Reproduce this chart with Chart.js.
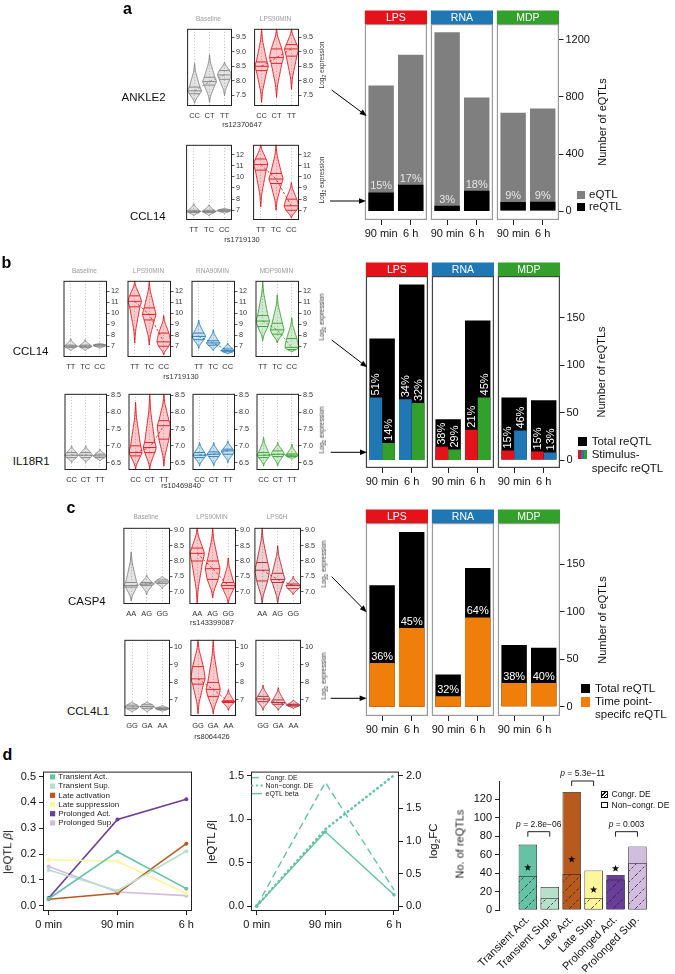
<!DOCTYPE html>
<html>
<head>
<meta charset="utf-8">
<title>eQTL figure</title>
<script src="https://cdn.jsdelivr.net/npm/chart.js@4.4.1/dist/chart.umd.min.js"></script>
<style>
  html, body { margin: 0; padding: 0; background: #fff; }
  #fig { position: relative; width: 675px; height: 974px; overflow: hidden;
         font-family: "Liberation Sans", Arial, Helvetica, sans-serif; color: #111; }
  #fig canvas { position: absolute; }
  .t { position: absolute; white-space: nowrap; line-height: 1; }
  .sw { position: absolute; box-sizing: border-box; }
</style>
</head>
<body>
<div id="fig"></div>
<script>
// ---------- data: bar panels a-c ----------
const timeLabels = ['90 min', '6 h'];
const stimNames = ['LPS', 'RNA', 'MDP'];
const stimColors = ['#e3121b', '#1f78b4', '#33a02c'];

// a: eQTL and reQTL counts, per stimulus [90 min, 6 h]
const aTotal = [[880, 1096], [1254, 797], [690, 720]];
const aRe = [[130, 184], [37, 143], [63, 65]];
const aPct = [['15%', '17%'], ['3%', '18%'], ['9%', '9%']];
const aTicks = [0, 400, 800, 1200];

// b: total reQTL and stimulus-specific reQTL
const bTotal = [[128, 185], [43, 147], [66, 63]];
const bLeft = [[66, 64], [14, 32], [10, 9]];
const bRight = [[18, 60], [11, 66], [31, 8]];
const bLeftPct = [['51%', '34%'], ['38%', '21%'], ['15%', '15%']];
const bRightPct = [['14%', '32%'], ['29%', '45%'], ['46%', '13%']];
const bLeftColor = ['#1f78b4', '#e3121b', '#e3121b'];
const bRightColor = ['#33a02c', '#33a02c', '#1f78b4'];
const reTicks = [0, 50, 100, 150];

// c: total reQTL and time point-specific reQTL
const cTotal = [[128, 184], [34, 146], [65, 62]];
const cTime = [[46, 83], [11, 94], [25, 25]];
const cPct = [['36%', '45%'], ['32%', '64%'], ['38%', '40%']];

// ---------- data: violins, each [low, q1, median, q3, high] ----------
const ankleGeno = ['CC', 'CT', 'TT'];
const ankleBase = [[7.22, 7.55, 7.65, 7.78, 8.6], [7.25, 7.85, 7.97, 8.12, 8.9], [7.48, 8.05, 8.2, 8.35, 8.65]];
const ankleLps = [[7.25, 8.35, 8.5, 8.65, 9.8], [7.42, 8.6, 8.8, 9.1, 9.8], [7.7, 8.85, 9.1, 9.25, 9.8]];
const ankleTicks = [7.5, 8, 8.5, 9, 9.5];

const ccl14Geno = ['TT', 'TC', 'CC'];
const ccl14BaseA = [[6.5, 6.8, 6.9, 7.0, 7.6], [6.5, 6.8, 6.9, 7.0, 7.5], [6.7, 6.9, 7.0, 7.05, 7.2]];
const ccl14LpsA = [[7.3, 10.6, 11.1, 11.6, 12.9], [7.0, 9.4, 9.8, 10.3, 12.9], [6.3, 7.0, 7.4, 8.0, 9.5]];
const ccl14Base = [[6.6, 6.9, 7.0, 7.1, 7.7], [6.6, 6.9, 7.0, 7.1, 7.6], [6.8, 7.0, 7.1, 7.15, 7.3]];
const ccl14Lps = [[7.3, 10.6, 11.1, 11.6, 12.95], [7.1, 9.4, 9.9, 10.5, 12.95], [6.2, 7.0, 7.4, 8.2, 9.8]];
const ccl14Rna = [[6.8, 7.6, 7.9, 8.2, 9.4], [6.6, 7.1, 7.3, 7.5, 8.5], [6.3, 6.5, 6.6, 6.75, 7.3]];
const ccl14Mdp = [[7.5, 8.8, 9.3, 9.8, 12.95], [7.3, 8.1, 8.5, 9.1, 11.7], [6.5, 6.7, 6.9, 7.7, 9.6]];
const ccl14Ticks = [7, 8, 9, 10, 11, 12];

const il18Geno = ['CC', 'CT', 'TT'];
const il18Base = [[6.5, 6.65, 6.72, 6.8, 7.0], [6.5, 6.65, 6.72, 6.8, 7.0], [6.55, 6.65, 6.7, 6.75, 6.9]];
const il18Lps = [[6.3, 6.7, 6.8, 7.0, 8.3], [6.3, 6.8, 6.95, 7.1, 8.55], [6.4, 7.2, 7.6, 7.75, 8.55]];
const il18Rna = [[6.4, 6.65, 6.72, 6.8, 7.1], [6.4, 6.68, 6.75, 6.82, 7.1], [6.5, 6.75, 6.85, 6.9, 7.15]];
const il18Mdp = [[6.4, 6.65, 6.72, 6.8, 7.25], [6.4, 6.68, 6.75, 6.85, 7.1], [6.6, 6.68, 6.72, 6.76, 7.05]];
const il18Ticks = [6.5, 7, 7.5, 8, 8.5];

const casp4Geno = ['AA', 'AG', 'GG'];
const casp4Base = [[6.7, 7.15, 7.2, 7.3, 8.3], [6.9, 7.2, 7.25, 7.3, 7.55], [7.1, 7.27, 7.32, 7.38, 7.5]];
const casp4Lps90 = [[6.6, 8.0, 8.25, 8.42, 9.08], [6.8, 7.4, 7.75, 8.0, 9.08], [6.6, 7.1, 7.2, 7.3, 8.1]];
const casp4Lps6 = [[6.6, 7.35, 7.7, 7.95, 9.08], [6.6, 7.3, 7.4, 7.6, 8.5], [6.9, 7.1, 7.2, 7.25, 7.5]];
const casp4Ticks = [7, 7.5, 8, 8.5, 9];

const ccl4Geno = ['GG', 'GA', 'AA'];
const ccl4Base = [[6.3, 6.5, 6.6, 6.7, 6.9], [6.3, 6.52, 6.62, 6.72, 6.9], [6.35, 6.45, 6.5, 6.55, 6.7]];
const ccl4Lps90 = [[6.2, 7.9, 8.2, 8.9, 10.43], [6.2, 7.2, 7.6, 8.0, 10.43], [6.4, 6.85, 6.9, 6.95, 7.6]];
const ccl4Lps6 = [[6.4, 6.9, 7.05, 7.2, 7.85], [6.4, 6.75, 6.85, 7.0, 7.7], [6.5, 6.65, 6.7, 6.75, 7.0]];
const ccl4Ticks = [7, 8, 9, 10];

// ---------- data: panel d ----------
const dTimes = ['0 min', '90 min', '6 h'];
const dClasses = ['Transient Act.', 'Transient Sup.', 'Late activation', 'Late suppression', 'Prolonged Act.', 'Prolonged Sup.'];
const dColors = ['#66c2a5', '#b6e0cb', '#b85a1d', '#fff59a', '#6a3d9a', '#d2bce0'];
const transientAct = [0.027, 0.209, 0.066];
const transientSup = [0.138, 0.058, 0.211];
const lateAct = [0.025, 0.048, 0.240];
const lateSup = [0.178, 0.172, 0.047];
const prolongedAct = [0.030, 0.334, 0.412];
const prolongedSup = [0.152, 0.053, 0.039];
const betaTicks = [0, 0.1, 0.2, 0.3, 0.4, 0.5];

const congrDE = [0, 1.90, 0.25];
const nonCongrDE = [0, 1.18, 2.01];
const eqtlBeta = [0, 0.856, 0.13];
const betaTicks2 = [0, 0.5, 1, 1.5];
const fcTicks = [0, 0.5, 1, 1.5, 2];

const barCats = ['Transient Act.', 'Transient Sup.', 'Late Act.', 'Late Sup.', 'Prolonged Act.', 'Prolonged Sup.'];
const totalRe = [71, 25, 128, 43, 38, 69];
const congrRe = [37, 13, 39, 13, 33, 51];
const starAt = [46, null, 55, 22, 45, null];
const pTests = [[0, 1, '2.8e\u221206', 85], [2, 3, '5.3e\u221211', 140], [4, 5, '0.003', 85]];
const countTicks = [0, 20, 40, 60, 80, 100, 120];

// ---------- helpers ----------
const FONT = '"Liberation Sans", Arial, Helvetica, sans-serif';
const fig = document.getElementById('fig');

function mkCanvas(x, y, w, h) {
  const c = document.createElement('canvas');
  c.width = w; c.height = h;
  c.style.left = x + 'px'; c.style.top = y + 'px';
  c.style.width = w + 'px'; c.style.height = h + 'px';
  fig.appendChild(c);
  return c;
}

function label(html, x, y, size, o = {}) {
  const d = document.createElement('div');
  d.className = 't';
  d.innerHTML = html;
  d.style.left = x + 'px';
  d.style.top = y + 'px';
  d.style.fontSize = size + 'px';
  d.style.color = o.color || '#111';
  if (o.bold) d.style.fontWeight = 'bold';
  const ax = o.align === 'left' ? '0' : o.align === 'right' ? '-100%' : '-50%';
  d.style.transform = 'translate(' + ax + ',-50%)' + (o.rot ? ' rotate(' + o.rot + 'deg)' : '');
  fig.appendChild(d);
}

function swatch(x, y, w, h, bg, border) {
  const d = document.createElement('div');
  d.className = 'sw';
  d.style.cssText += 'left:' + x + 'px;top:' + y + 'px;width:' + w + 'px;height:' + h + 'px;background:' + bg + ';' + (border ? 'border:' + border + ';' : '');
  fig.appendChild(d);
}

function rgba(hex, a) {
  const n = parseInt(hex.slice(1), 16);
  return 'rgba(' + (n >> 16) + ',' + ((n >> 8) & 255) + ',' + (n & 255) + ',' + a + ')';
}

function hatch(color) {
  const c = document.createElement('canvas');
  c.width = c.height = 11;
  const g = c.getContext('2d');
  g.fillStyle = color; g.fillRect(0, 0, 11, 11);
  g.strokeStyle = '#222'; g.lineWidth = 0.8; g.setLineDash([2.6, 2]);
  g.beginPath(); g.moveTo(0, 11); g.lineTo(11, 0); g.stroke();
  return g.createPattern(c, 'repeat');
}

// smooth violin outline from the five summary values
function violinProfile(s) {
  const [lo, q1, md, q3, hi] = s;
  const knots = [[lo, 0], [lo + (q1 - lo) * 0.35, 0.13], [q1, 0.74], [md, 1], [q3, 0.74], [hi - (hi - q3) * 0.35, 0.13], [hi, 0]];
  const n = 48, pts = [];
  for (let i = 0; i <= n; i++) {
    const v = lo + (hi - lo) * i / n;
    let k = 1;
    while (k < knots.length - 1 && knots[k][0] < v) k++;
    const [v0, w0] = knots[k - 1], [v1, w1] = knots[k];
    pts.push([v, v1 > v0 ? w0 + (w1 - w0) * (v - v0) / (v1 - v0) : w1]);
  }
  for (let pass = 0; pass < 2; pass++) {
    const c = pts.map(p => p[1]);
    for (let i = 1; i < n; i++) pts[i][1] = (c[i - 1] + 2 * c[i] + c[i + 1]) / 4;
  }
  return pts;
}
function widthAt(pts, v) {
  for (let i = 1; i < pts.length; i++) {
    if (pts[i][0] >= v) {
      const [v0, w0] = pts[i - 1], [v1, w1] = pts[i];
      return v1 > v0 ? w0 + (w1 - w0) * (v - v0) / (v1 - v0) : w1;
    }
  }
  return 0;
}

function star(ctx, x, y, r) {
  ctx.beginPath();
  for (let i = 0; i < 10; i++) {
    const rr = i % 2 ? r * 0.42 : r, a = -Math.PI / 2 + i * Math.PI / 5;
    ctx.lineTo(x + rr * Math.cos(a), y + rr * Math.sin(a));
  }
  ctx.closePath(); ctx.fill();
}

// ---------- plugins ----------
const framePlugin = {
  id: 'frame',
  afterDatasetsDraw(chart, args, o) {
    if (!o || !o.color) return;
    const { ctx, chartArea: a } = chart;
    const e = o.expand || 0, lw = o.width || 1;
    ctx.save();
    ctx.strokeStyle = o.color; ctx.lineWidth = lw;
    ctx.strokeRect(a.left - e + lw / 2, a.top + lw / 2, a.right - a.left + 2 * e - lw, a.bottom - a.top - lw);
    if (o.header) {
      ctx.fillStyle = o.headerColor;
      ctx.fillRect(a.left - e, a.top - o.headerH, a.right - a.left + 2 * e, o.headerH);
      ctx.fillStyle = '#fff';
      ctx.font = '10.5px ' + FONT;
      ctx.textAlign = 'center'; ctx.textBaseline = 'middle';
      ctx.fillText(o.header, (a.left + a.right) / 2, a.top - o.headerH / 2 + 0.5);
    }
    ctx.restore();
  }
};

const pctPlugin = {
  id: 'pct',
  afterDatasetsDraw(chart, args, o) {
    if (!o || !o.sets) return;
    const ctx = chart.ctx;
    ctx.save();
    ctx.fillStyle = o.color;
    ctx.font = o.size + 'px ' + FONT;
    o.sets.forEach(([ds, labels]) => {
      chart.getDatasetMeta(ds).data.forEach((bar, i) => {
        if (o.rotate) {
          ctx.save();
          ctx.translate(bar.x, bar.y - o.gap);
          ctx.rotate(-Math.PI / 2);
          ctx.textAlign = 'left'; ctx.textBaseline = 'middle';
          ctx.fillText(labels[i], 0, 0.5);
          ctx.restore();
        } else {
          ctx.textAlign = 'center'; ctx.textBaseline = 'alphabetic';
          ctx.fillText(labels[i], bar.x, bar.y - o.gap);
        }
      });
    });
    ctx.restore();
  }
};

const violinPlugin = {
  id: 'violin',
  beforeDatasetsDraw(chart, args, o) {
    if (!o || !o.stats) return;
    const { ctx, chartArea: a, scales: { x, y } } = chart;
    const half = 0.48 * Math.abs(x.getPixelForValue(1) - x.getPixelForValue(0));
    ctx.save();
    ctx.beginPath(); ctx.rect(a.left, a.top, a.right - a.left, a.bottom - a.top); ctx.clip();
    o.stats.forEach((s, i) => {
      const cx = x.getPixelForValue(i);
      const pts = violinProfile(s);
      ctx.beginPath();
      pts.forEach((p, j) => {
        const px = cx + p[1] * half, py = y.getPixelForValue(p[0]);
        if (j) ctx.lineTo(px, py); else ctx.moveTo(px, py);
      });
      for (let j = pts.length - 1; j >= 0; j--) ctx.lineTo(cx - pts[j][1] * half, y.getPixelForValue(pts[j][0]));
      ctx.closePath();
      ctx.fillStyle = rgba(o.color, 0.22);
      ctx.fill();
      ctx.strokeStyle = o.color; ctx.lineWidth = 0.9;
      ctx.stroke();
      [s[1], s[2], s[3]].forEach(q => {
        const w = widthAt(pts, q) * half, py = y.getPixelForValue(q);
        ctx.beginPath(); ctx.moveTo(cx - w, py); ctx.lineTo(cx + w, py); ctx.stroke();
      });
    });
    ctx.restore();
  }
};

const legendInPlugin = {
  id: 'legendIn',
  afterDraw(chart, args, o) {
    if (!o || !o.kind) return;
    const { ctx, chartArea: a } = chart;
    ctx.save();
    ctx.font = o.size + 'px ' + FONT;
    ctx.textBaseline = 'middle'; ctx.textAlign = 'left';
    chart.data.datasets.forEach((ds, i) => {
      const yy = a.top + o.top + i * o.step, x0 = a.left + o.left;
      if (o.kind === 'square') {
        ctx.fillStyle = ds.borderColor;
        ctx.fillRect(x0, yy - 2.6, 5.2, 5.2);
        ctx.fillStyle = '#222';
        ctx.fillText(ds.label, x0 + 8.3, yy);
      } else {
        ctx.strokeStyle = ds.borderColor;
        ctx.lineWidth = Math.min(ds.borderWidth, 2);
        ctx.setLineDash(ds.borderDash || []);
        ctx.lineCap = ds.borderCapStyle || 'butt';
        ctx.beginPath(); ctx.moveTo(x0, yy); ctx.lineTo(x0 + 10, yy); ctx.stroke();
        ctx.setLineDash([]);
        ctx.fillStyle = '#222';
        ctx.fillText(ds.label, x0 + 13.5, yy);
      }
    });
    ctx.restore();
  }
};

const annotPlugin = {
  id: 'annot',
  afterDatasetsDraw(chart, args, o) {
    if (!o || !o.tests) return;
    const { ctx, scales: { x, y } } = chart;
    ctx.save();
    ctx.fillStyle = '#111';
    o.stars.forEach((v, i) => {
      if (v === null || v === undefined) return;
      star(ctx, x.getPixelForValue(i), y.getPixelForValue(v), 3.8);
    });
    ctx.strokeStyle = '#222'; ctx.lineWidth = 1;
    o.tests.forEach(([i, j, txt, v]) => {
      const x1 = x.getPixelForValue(i), x2 = x.getPixelForValue(j), yy = y.getPixelForValue(v);
      ctx.beginPath();
      ctx.moveTo(x1, yy + 5); ctx.lineTo(x1, yy); ctx.lineTo(x2, yy); ctx.lineTo(x2, yy + 5);
      ctx.stroke();
      ctx.font = 'italic 8.5px ' + FONT;
      const pw = ctx.measureText('p').width;
      ctx.font = '8.5px ' + FONT;
      const rest = ' = ' + txt, rw = ctx.measureText(rest).width;
      const x0 = (x1 + x2) / 2 - (pw + rw) / 2;
      ctx.textAlign = 'left'; ctx.textBaseline = 'alphabetic';
      ctx.font = 'italic 8.5px ' + FONT;
      ctx.fillText('p', x0, yy - 5);
      ctx.font = '8.5px ' + FONT;
      ctx.fillText(rest, x0 + pw, yy - 5);
    });
    ctx.restore();
  }
};

Chart.register(framePlugin, pctPlugin, violinPlugin, legendInPlugin, annotPlugin);
Chart.defaults.font.family = FONT;
Chart.defaults.color = '#111';
Chart.defaults.animation = false;
Chart.defaults.responsive = false;
Chart.defaults.plugins.legend.display = false;
Chart.defaults.plugins.tooltip.enabled = false;

// ---------- faceted bar charts (a, b, c) ----------
const barOpts = { categoryPercentage: 0.86, barPercentage: 1, borderWidth: 0 };

function facetChart(p) {
  const cx = p.fx - 1, cy = p.areaTop - 14;
  const cw = p.last ? 675 - cx : 66;
  const cv = mkCanvas(cx, cy, cw, 14 + p.areaH + 24);
  return new Chart(cv, {
    type: 'bar',
    data: { labels: timeLabels, datasets: p.datasets },
    options: {
      layout: { autoPadding: false, padding: { left: 2.5, right: p.last ? cw - 2.5 - 61 - 36 : 2.5, top: 14, bottom: 0 } },
      scales: {
        x: {
          type: 'category', offset: true,
          grid: { display: true, drawOnChartArea: false, drawTicks: true, tickLength: 5, offset: false, color: '#222' },
          border: { display: false },
          ticks: { font: { size: 11 }, color: '#111', padding: 2, maxRotation: 0, autoSkip: false },
          afterFit: s => { s.height = 24; }
        },
        y: {
          type: 'linear', position: 'right', display: p.last, min: p.yMin, max: p.yMax,
          grid: { drawOnChartArea: false, tickLength: 6, color: '#222' },
          border: { display: false },
          ticks: { font: { size: 11 }, color: '#111', padding: 2, callback: v => String(v) },
          afterBuildTicks: s => { s.ticks = p.yTicks.map(v => ({ value: v })); },
          afterFit: s => { s.width = p.last ? 36 : 0; }
        }
      },
      plugins: {
        frame: { color: p.frameColor, width: 1.2, expand: 1.5, header: stimNames[p.k], headerColor: stimColors[p.k], headerH: 13.5 },
        pct: p.pct
      }
    }
  });
}

const facetX = [[363, 429, 495], [364, 430, 496], [364, 430, 496]];
for (let k = 0; k < 3; k++) {
  facetChart({
    fx: facetX[0][k], areaTop: 24, areaH: 196, k, last: k === 2,
    yMin: -63, yMax: 1312, yTicks: aTicks, frameColor: '#9a9a9a',
    datasets: [
      { ...barOpts, data: aRe[k], backgroundColor: '#000', grouped: false, order: 0 },
      { ...barOpts, data: aTotal[k], backgroundColor: '#7f7f7f', grouped: false, order: 1 }
    ],
    pct: { sets: [[0, aPct[k]]], color: '#e6e6e6', size: 11, gap: 3, rotate: false }
  });
  facetChart({
    fx: facetX[1][k], areaTop: 276, areaH: 192, k, last: k === 2,
    yMin: -8.4, yMax: 194, yTicks: reTicks, frameColor: '#444',
    datasets: [
      { ...barOpts, data: bLeft[k], backgroundColor: bLeftColor[k], grouped: true, order: 0 },
      { ...barOpts, data: bRight[k], backgroundColor: bRightColor[k], grouped: true, order: 1 },
      { ...barOpts, data: bTotal[k], backgroundColor: '#000', grouped: false, order: 2 }
    ],
    pct: { sets: [[0, bLeftPct[k]], [1, bRightPct[k]]], color: '#fff', size: 11, gap: 2, rotate: true }
  });
  facetChart({
    fx: facetX[2][k], areaTop: 523, areaH: 193, k, last: k === 2,
    yMin: -9.8, yMax: 193.5, yTicks: reTicks, frameColor: '#9a9a9a',
    datasets: [
      { ...barOpts, data: cTime[k], backgroundColor: '#f07e0a', grouped: false, order: 0 },
      { ...barOpts, data: cTotal[k], backgroundColor: '#000', grouped: false, order: 1 }
    ],
    pct: { sets: [[0, cPct[k]]], color: '#fff', size: 11, gap: 3, rotate: false }
  });
}

// ---------- violin panels ----------
const vGray = '#808080', vRed = '#e3121b', vBlue = '#1f78b4', vGreen = '#33a02c', vDark = '#b3202a';

function violinChart(bx, by, bw, bh, cats, stats, color, ticks, dec, yMin, yMax) {
  const cv = mkCanvas(bx - 1, by - 1, bw + 21, bh + 15);
  new Chart(cv, {
    type: 'line',
    data: { labels: cats, datasets: [{ data: stats.map(s => s[2]), borderColor: color, borderWidth: 0.8, borderDash: [2.5, 2], pointRadius: 0 }] },
    options: {
      layout: { autoPadding: false, padding: { left: 1, top: 1, right: 0, bottom: 0 } },
      scales: {
        x: {
          type: 'category', offset: true,
          grid: { display: true, drawTicks: false, color: '#b5b5b5', lineWidth: 0.7, offset: false },
          border: { display: false, dash: [1.2, 1.8] },
          ticks: { font: { size: 7.5 }, color: '#333', padding: 5, maxRotation: 0, autoSkip: false },
          afterFit: s => { s.height = 14; }
        },
        y: {
          position: 'right', min: yMin, max: yMax,
          grid: { drawOnChartArea: false, tickLength: 2.5, color: '#333', lineWidth: 0.8 },
          border: { display: false },
          ticks: { font: { size: 7.2 }, color: '#333', padding: 1.5, callback: v => v.toFixed(dec) },
          afterBuildTicks: s => { s.ticks = ticks.map(v => ({ value: v })); },
          afterFit: s => { s.width = 20; }
        }
      },
      plugins: { frame: { color: '#222', width: 1 }, violin: { stats, color } }
    }
  });
}

const violinRows = [
  { y: 24, h: 82, xs: [185, 252], w: 47, cats: ankleGeno, sets: [ankleBase, ankleLps], colors: [vGray, vRed], ticks: ankleTicks, dec: 1, min: 7.126, max: 9.795 },
  { y: 140, h: 80, xs: [185, 252], w: 47, cats: ccl14Geno, sets: [ccl14BaseA, ccl14LpsA], colors: [vGray, vRed], ticks: ccl14Ticks, dec: 0, min: 6.13, max: 12.87 },
  { y: 276, h: 81, xs: [62, 126, 190, 254], w: 45, cats: ccl14Geno, sets: [ccl14Base, ccl14Lps, ccl14Rna, ccl14Mdp], colors: [vGray, vRed, vBlue, vGreen], ticks: ccl14Ticks, dec: 0, min: 6.02, max: 12.97 },
  { y: 389, h: 81, xs: [62, 126, 190, 254], w: 45, cats: il18Geno, sets: [il18Base, il18Lps, il18Rna, il18Mdp], colors: [vGray, vRed, vBlue, vGreen], ticks: il18Ticks, dec: 1, min: 6.28, max: 8.55 },
  { y: 523, h: 81, xs: [122, 188, 253], w: 48, cats: casp4Geno, sets: [casp4Base, casp4Lps90, casp4Lps6], colors: [vGray, vRed, vDark], ticks: casp4Ticks, dec: 1, min: 6.6, max: 9.08 },
  { y: 635, h: 81, xs: [122, 188, 253], w: 48, cats: ccl4Geno, sets: [ccl4Base, ccl4Lps90, ccl4Lps6], colors: [vGray, vRed, vDark], ticks: ccl4Ticks, dec: 0, min: 6.08, max: 10.43 }
];
violinRows.forEach(r => {
  r.xs.forEach((bx, i) => violinChart(bx, r.y, r.w, r.h, r.cats, r.sets[i], r.colors[i], r.ticks, r.dec, r.min, r.max));
  const last = r.xs[r.xs.length - 1] + r.w;
  label('Log<sub style="font-size:5px">2</sub> expression', last + 24, r.y + r.h / 2, 6.5, { rot: -90, color: '#333' });
});

// panel titles over violins
const vTitles = [[violinRows[0], ['Baseline', 'LPS90MIN'], 19.3], [violinRows[2], ['Baseline', 'LPS90MIN', 'RNA90MIN', 'MDP90MIN'], 270.7], [violinRows[4], ['Baseline', 'LPS90MIN', 'LPS6H'], 517.3]];
vTitles.forEach(([r, names, ty]) => names.forEach((n, i) => label(n, r.xs[i] + r.w / 2, ty, 6.5, { color: '#9a9a9a' })));

// SNP ids
label('rs12370647', 242, 125.3, 7.5, { color: '#333' });
label('rs1719130', 242, 240, 7.5, { color: '#333' });
label('rs1719130', 181, 376.7, 7.5, { color: '#333' });
label('rs10469840', 181, 486, 7.5, { color: '#333' });
label('rs143399087', 212, 623.3, 7.5, { color: '#333' });
label('rs8064426', 212, 736.7, 7.5, { color: '#333' });

// gene names
label('ANKLE2', 165.7, 98.3, 11.5, { align: 'right' });
label('CCL14', 165.7, 217.3, 11.5, { align: 'right' });
label('CCL14', 12.7, 351.7, 11.5, { align: 'left' });
label('IL18R1', 12.7, 462.3, 11.5, { align: 'left' });
label('CASP4', 68, 601.7, 11.5, { align: 'left' });
label('CCL4L1', 67, 711.5, 11.5, { align: 'left' });

// panel letters
label('a', 123, 8.8, 16, { align: 'left', bold: true, color: '#000' });
label('b', 1.5, 263.3, 16, { align: 'left', bold: true, color: '#000' });
label('c', 66.5, 508, 16, { align: 'left', bold: true, color: '#000' });
label('d', 2.5, 755, 16, { align: 'left', bold: true, color: '#000' });

// bar axis titles and legends
label('Number of eQTLs', 601.7, 122, 11, { rot: -90 });
label('Number of reQTLs', 600.5, 371.7, 11, { rot: -90 });
label('Number of eQTLs', 601.7, 620, 11, { rot: -90 });
swatch(576.5, 190.7, 8.5, 8.5, '#7f7f7f');
swatch(576.5, 202.7, 8.5, 8.5, '#000');
label('eQTL', 589, 195, 11.5, { align: 'left' });
label('reQTL', 589, 207, 11.5, { align: 'left' });
swatch(577.5, 436.8, 9, 9, '#000');
swatch(577.5, 449.5, 9, 9.5, 'linear-gradient(to right,#e3121b 0 33%,#1f78b4 33% 66%,#33a02c 66%)');
label('Total reQTL', 591.7, 441.5, 11.5, { align: 'left' });
label('Stimulus-', 591.7, 455, 11.5, { align: 'left' });
label('specifc reQTL', 591.7, 469, 11.5, { align: 'left' });
swatch(580.7, 684, 9.3, 9.3, '#000');
swatch(580.7, 697, 9.3, 9.7, '#f07e0a');
label('Total reQTL', 595, 688.5, 11.5, { align: 'left' });
label('Time point-', 595, 701.8, 11.5, { align: 'left' });
label('specifc reQTL', 595, 715, 11.5, { align: 'left' });

// ---------- panel d: |eQTL beta| over time per class ----------
const dBeta = [transientAct, transientSup, lateAct, lateSup, prolongedAct, prolongedSup];
const xy = arr => arr.map((v, i) => ({ x: i, y: v }));

function dAxisX(min, max) {
  return {
    type: 'linear', min, max,
    grid: { drawOnChartArea: false, tickLength: 4, color: '#222' },
    border: { display: false },
    ticks: { font: { size: 11 }, color: '#111', padding: 3, maxRotation: 0, callback: v => dTimes[v] },
    afterBuildTicks: s => { s.ticks = dTimes.map((t, i) => ({ value: i })); },
    afterFit: s => { s.height = 24; }
  };
}
function dAxisY(pos, min, max, ticks, w) {
  return {
    type: 'linear', position: pos, min, max,
    grid: { drawOnChartArea: false, tickLength: 4, color: '#222' },
    border: { display: false },
    ticks: { font: { size: 11 }, color: '#111', padding: 3, callback: v => v.toFixed(1) },
    afterBuildTicks: s => { s.ticks = ticks.map(v => ({ value: v })); },
    afterFit: s => { s.width = w; }
  };
}

new Chart(mkCanvas(0, 762, 200, 173), {
  type: 'line',
  data: {
    datasets: dClasses.map((name, i) => ({
      label: name, data: xy(dBeta[i]), borderColor: dColors[i], backgroundColor: dColors[i],
      borderWidth: 1.6, pointRadius: 2, pointBorderWidth: 0, tension: 0
    }))
  },
  options: {
    layout: { autoPadding: false, padding: { left: 0, right: 8, top: 6, bottom: 0 } },
    scales: { x: dAxisX(-0.083, 2.083), y: dAxisY('left', -0.0205, 0.519, betaTicks, 43) },
    plugins: { frame: { color: '#222', width: 1 }, legendIn: { kind: 'square', size: 8, left: 7, top: 5.3, step: 9.2 } }
  }
});
label('|eQTL <i>\u03b2</i>|', 8, 852, 11.5, { rot: -90 });

// ---------- panel d: example congruent / non-congruent ----------
const teal = '#66c2a5';
new Chart(mkCanvas(204, 762, 240, 173), {
  type: 'line',
  data: {
    datasets: [
      { label: 'Congr. DE', data: xy(congrDE), yAxisID: 'y2', borderColor: teal, borderWidth: 1.4, borderDash: [7, 4], pointRadius: 0 },
      { label: 'Non\u2212congr. DE', data: xy(nonCongrDE), yAxisID: 'y2', borderColor: teal, borderWidth: 2.6, borderDash: [0.5, 4.2], borderCapStyle: 'round', pointRadius: 0 },
      { label: 'eQTL beta', data: xy(eqtlBeta), yAxisID: 'y', borderColor: teal, backgroundColor: teal, borderWidth: 1.4, pointRadius: 1.8, pointBorderWidth: 0 }
    ]
  },
  options: {
    layout: { autoPadding: false, padding: { left: 0, right: 0, top: 6, bottom: 0 } },
    scales: {
      x: dAxisX(-0.083, 2.073),
      y: dAxisY('left', -0.056, 1.55, betaTicks2, 47),
      y2: dAxisY('right', -0.075, 2.066, fcTicks, 45)
    },
    plugins: { frame: { color: '#222', width: 1 }, legendIn: { kind: 'line', size: 7, left: 1, top: 6, step: 8 } }
  }
});
label('|eQTL <i>\u03b2</i>|', 212, 842, 11.5, { rot: -90 });
label('log<sub style="font-size:8px">2</sub>FC', 435, 841, 11.5, { rot: -90 });

// ---------- panel d: reQTL counts per class ----------
new Chart(mkCanvas(449, 765, 226, 207), {
  type: 'bar',
  data: {
    datasets: [
      { label: 'Congr. DE', data: xy(congrRe), backgroundColor: dColors.map(hatch), borderColor: '#222', borderWidth: 0.8, borderSkipped: false, grouped: false, order: 0, barPercentage: 0.84, categoryPercentage: 1 },
      { label: 'Non\u2212congr. DE', data: xy(totalRe), backgroundColor: dColors, borderColor: '#222', borderWidth: 0.8, borderSkipped: false, grouped: false, order: 1, barPercentage: 0.84, categoryPercentage: 1 }
    ]
  },
  options: {
    layout: { autoPadding: false, padding: { left: 0, right: 13, top: 16, bottom: 0 } },
    scales: {
      x: {
        type: 'linear', min: -0.696, max: 5.5,
        grid: { display: false, drawTicks: false },
        border: { display: false },
        ticks: { font: { size: 11 }, color: '#111', padding: 3, minRotation: 45, maxRotation: 45, autoSkip: false, callback: v => barCats[v] },
        afterBuildTicks: s => { s.ticks = barCats.map((c, i) => ({ value: i })); },
        afterFit: s => { s.height = 62; }
      },
      y: {
        type: 'linear', position: 'left', min: 0, max: 140,
        grid: { drawOnChartArea: false, tickLength: 4, color: '#222' },
        border: { display: true, color: '#222', width: 1 },
        ticks: { font: { size: 11 }, color: '#111', padding: 3, callback: v => String(v) },
        afterBuildTicks: s => { s.ticks = countTicks.map(v => ({ value: v })); },
        afterFit: s => { s.width = 50; }
      }
    },
    plugins: { annot: { stars: starAt, tests: pTests } }
  }
});
label('No. of reQTLs', 460, 844, 11, { rot: -90, color: '#222' });
swatch(601, 791, 6.5, 6.5, 'repeating-linear-gradient(-45deg,#fff 0 1.6px,#111 1.6px 2.6px)', '0.8px solid #111');
swatch(601, 801.5, 6.5, 6.5, '#fff', '0.8px solid #111');
label('Congr. DE', 611.5, 794.3, 8.5, { align: 'left' });
label('Non\u2212congr. DE', 611.5, 804.7, 8.5, { align: 'left' });

// ---------- arrows from violins to bar panels ----------
const ov = mkCanvas(0, 0, 675, 974);
ov.style.pointerEvents = 'none';
const g = ov.getContext('2d');
function arrow(x1, y1, x2, y2) {
  g.strokeStyle = '#000'; g.fillStyle = '#000'; g.lineWidth = 1;
  const ang = Math.atan2(y2 - y1, x2 - x1), L = 7, W = 2.8;
  g.beginPath(); g.moveTo(x1, y1); g.lineTo(x2 - L * Math.cos(ang) * 0.6, y2 - L * Math.sin(ang) * 0.6); g.stroke();
  g.beginPath(); g.moveTo(x2, y2);
  g.lineTo(x2 - L * Math.cos(ang) + W * Math.sin(ang), y2 - L * Math.sin(ang) - W * Math.cos(ang));
  g.lineTo(x2 - L * Math.cos(ang) - W * Math.sin(ang), y2 - L * Math.sin(ang) + W * Math.cos(ang));
  g.closePath(); g.fill();
}
arrow(331.7, 90, 366.7, 116);
arrow(330, 201, 366, 201);
arrow(331.7, 340, 367.3, 367.3);
arrow(330.7, 452.3, 367, 452.3);
arrow(331.7, 576.7, 366.7, 612.3);
arrow(330.7, 698.3, 366.7, 698.3);
</script>
</body>
</html>
